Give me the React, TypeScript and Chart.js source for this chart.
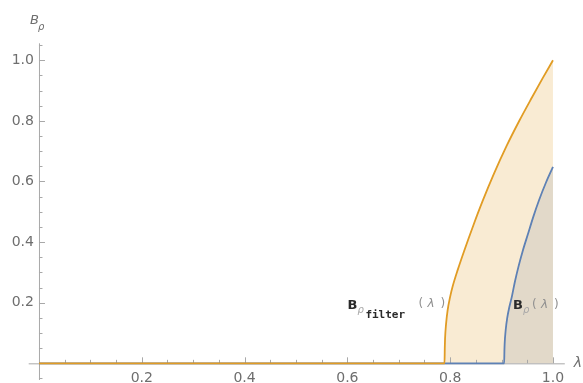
import React, { useEffect, useRef } from "react";
import { Chart, registerables } from "chart.js";

Chart.register(...registerables);

// B_rho_filter(lambda): zero up to ~0.789, then rises
const filterX = [0, 0.789, 0.7895, 0.79, 0.792, 0.795, 0.8, 0.805, 0.815, 0.827, 0.845, 0.863, 0.885, 0.91, 0.935, 0.959, 0.98, 1.0];
const filterY = [0, 0, 0.05, 0.08, 0.13, 0.175, 0.22, 0.255, 0.31, 0.37, 0.455, 0.535, 0.625, 0.718, 0.802, 0.877, 0.941, 1.0];

// B_rho(lambda): zero up to ~0.905, then rises
const rhoX = [0, 0.905, 0.9055, 0.906, 0.908, 0.911, 0.915, 0.92, 0.926, 0.933, 0.941, 0.951, 0.962, 0.973, 0.986, 1.0];
const rhoY = [0, 0, 0.04, 0.065, 0.11, 0.15, 0.185, 0.22, 0.27, 0.32, 0.37, 0.425, 0.485, 0.539, 0.595, 0.648];

const xMajorTicks = [0.2, 0.4, 0.6, 0.8, 1.0];
const xTickLabels = ["0.2", "0.4", "0.6", "0.8", "1.0"];
const yMajorTicks = [0.2, 0.4, 0.6, 0.8, 1.0];
const yTickLabels = ["0.2", "0.4", "0.6", "0.8", "1.0"];
const xMinorTicks = [0.05, 0.1, 0.15, 0.25, 0.3, 0.35, 0.45, 0.5, 0.55, 0.65, 0.7, 0.75, 0.85, 0.9, 0.95];
const yMinorTicks = [-0.05, 0.05, 0.1, 0.15, 0.25, 0.3, 0.35, 0.45, 0.5, 0.55, 0.65, 0.7, 0.75, 0.85, 0.9, 0.95, 1.05];

const ORANGE = "#E19C24";
const BLUE = "#5E81B5";
const AXIS = "#a8a8a8";
const LABEL = "#6e6e6e";

function drawLambda(ctx: any, x: number, y: number) {
  ctx.fillStyle = "#909090";
  ctx.font = "12px 'DejaVu Sans'";
  ctx.fillText("(", x, y);
  ctx.font = "italic 12px 'DejaVu Sans'";
  ctx.fillText("λ", x + 9, y);
  ctx.font = "12px 'DejaVu Sans'";
  ctx.fillText(")", x + 22, y);
}

const axesPlugin = {
  id: "mmaAxes",
  beforeDatasetsDraw(chart: any) {
    const { ctx, chartArea, scales } = chart;
    const xs = scales.x;
    const ys = scales.y;
    const x0 = xs.getPixelForValue(0);
    const y0 = ys.getPixelForValue(0);
    ctx.save();
    ctx.strokeStyle = AXIS;
    ctx.lineWidth = 1;
    ctx.beginPath();
    ctx.moveTo(chartArea.left, y0 + 0.5);
    ctx.lineTo(chartArea.right, y0 + 0.5);
    ctx.moveTo(x0 + 0.5, chartArea.top);
    ctx.lineTo(x0 + 0.5, chartArea.bottom);
    ctx.stroke();
    ctx.beginPath();
    for (const v of xMajorTicks) {
      const p = Math.round(xs.getPixelForValue(v)) + 0.5;
      ctx.moveTo(p, y0);
      ctx.lineTo(p, y0 - 6);
    }
    for (const v of xMinorTicks) {
      const p = Math.round(xs.getPixelForValue(v)) + 0.5;
      ctx.moveTo(p, y0);
      ctx.lineTo(p, y0 - 3.5);
    }
    for (const v of yMajorTicks) {
      const p = Math.round(ys.getPixelForValue(v)) + 0.5;
      ctx.moveTo(x0, p);
      ctx.lineTo(x0 + 6, p);
    }
    for (const v of yMinorTicks) {
      const p = Math.round(ys.getPixelForValue(v)) + 0.5;
      ctx.moveTo(x0, p);
      ctx.lineTo(x0 + 3.5, p);
    }
    ctx.stroke();

    ctx.fillStyle = LABEL;
    ctx.font = "14px 'DejaVu Sans'";
    ctx.textAlign = "center";
    ctx.textBaseline = "middle";
    xMajorTicks.forEach((v, i) => {
      ctx.fillText(xTickLabels[i], xs.getPixelForValue(v), y0 + 15);
    });
    ctx.textAlign = "right";
    yMajorTicks.forEach((v, i) => {
      ctx.fillText(yTickLabels[i], x0 - 5, ys.getPixelForValue(v));
    });

    // axis titles
    ctx.textAlign = "left";
    ctx.textBaseline = "alphabetic";
    ctx.font = "italic 13px 'DejaVu Sans'";
    ctx.fillText("B", x0 - 9, 24);
    ctx.font = "italic 10px 'DejaVu Sans'";
    ctx.fillText("ρ", x0 - 1, 30);
    ctx.font = "italic 14px 'DejaVu Sans'";
    ctx.fillText("λ", chartArea.right + 9, y0 + 4);
    ctx.restore();
  },
  afterDatasetsDraw(chart: any) {
    const { ctx, scales } = chart;
    const xs = scales.x;
    const ys = scales.y;
    ctx.save();
    ctx.textAlign = "left";
    ctx.textBaseline = "alphabetic";

    // B_rho_filter(lambda) label, left of the orange curve
    let bx = xs.getPixelForValue(0.6);
    let by = ys.getPixelForValue(0.18);
    ctx.fillStyle = "#2a2a2a";
    ctx.font = "bold 13px 'DejaVu Sans'";
    ctx.fillText("B", bx, by);
    ctx.fillStyle = "#a8a8a8";
    ctx.font = "italic 10px 'DejaVu Sans'";
    ctx.fillText("ρ", bx + 10, by + 4);
    ctx.fillStyle = "#2a2a2a";
    ctx.font = "bold 11px 'DejaVu Sans Mono'";
    ctx.fillText("filter", bx + 18, by + 9);
    drawLambda(ctx, bx + 71, by - 2);

    // B_rho(lambda) label
    bx = xs.getPixelForValue(0.922);
    by = ys.getPixelForValue(0.18);
    ctx.fillStyle = "#2a2a2a";
    ctx.font = "bold 13px 'DejaVu Sans'";
    ctx.fillText("B", bx, by);
    ctx.fillStyle = "#a8a8a8";
    ctx.font = "italic 10px 'DejaVu Sans'";
    ctx.fillText("ρ", bx + 10, by + 4);
    drawLambda(ctx, bx + 19, by - 1);
    ctx.restore();
  },
};

function toPoints(xs: number[], ys: number[]) {
  return xs.map((x, i) => ({ x, y: ys[i] }));
}

export default function App() {
  const canvasRef = useRef<HTMLCanvasElement | null>(null);

  useEffect(() => {
    const canvas = canvasRef.current;
    if (!canvas) return;
    const chart = new Chart(canvas, {
      type: "line",
      data: {
        datasets: [
          {
            label: "B_rho_filter",
            data: toPoints(filterX, filterY),
            borderColor: ORANGE,
            borderWidth: 1.8,
            backgroundColor: "rgba(225,156,36,0.2)",
            fill: "origin",
            pointRadius: 0,
            cubicInterpolationMode: "monotone",
          },
          {
            label: "B_rho",
            data: toPoints(rhoX, rhoY),
            borderColor: BLUE,
            borderWidth: 1.8,
            backgroundColor: "rgba(94,129,181,0.18)",
            fill: "origin",
            pointRadius: 0,
            cubicInterpolationMode: "monotone",
          },
        ],
      },
      options: {
        responsive: false,
        animation: false,
        layout: { padding: { left: 28.7, right: 18.2, top: 43.3, bottom: 3 } },
        plugins: {
          legend: { display: false },
          tooltip: { enabled: false },
          title: { display: false },
          filler: { drawTime: "beforeDatasetsDraw" },
        } as any,
        scales: {
          x: { type: "linear", min: -0.02, max: 1.023, display: false },
          y: { type: "linear", min: -0.055, max: 1.056, display: false },
        },
      },
      plugins: [axesPlugin],
    });
    return () => chart.destroy();
  }, []);

  return (
    <div style={{ position: "fixed", left: 0, top: 0, width: 583, height: 383, background: "#fff" }}>
      <canvas ref={canvasRef} width={583} height={383} style={{ display: "block" }} />
    </div>
  );
}
